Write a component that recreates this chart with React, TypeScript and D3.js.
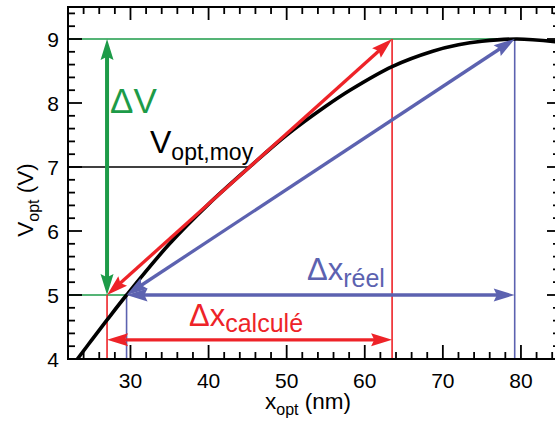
import React from "react";
import * as d3 from "d3";

// Curve V_opt(x_opt), values
const curveX = [22, 23.2, 25, 27, 29.5, 35, 40, 45.25, 50, 55, 58.1, 63.5, 68.7, 72, 75, 79.5, 85];
const curveV = [3.81, 4.0, 4.29, 4.61, 5.0, 5.8, 6.42, 7.0, 7.5, 7.95, 8.2, 8.57, 8.81, 8.91, 8.965, 9.0, 8.95];

const xTicks = [30, 40, 50, 60, 70, 80];
const yTicks = [4, 5, 6, 7, 8, 9];

const vLow = 5;
const vHigh = 9;
const vMid = 7;
const xCalcLow = 27;
const xCalcHigh = 63.5;
const xRealLow = 29.5;
const xRealHigh = 79.2;
const xMidTouch = 45.25;
const vCalcArrow = 4.3;

const GREEN = "#1d9b48";
const RED = "#ee2328";
const BLUE = "#5c62b0";
const FONT = "'Liberation Sans', Arial, Helvetica, sans-serif";

const W = 555;
const H = 423;
const L = 68;
const R = 560;
const T = 7;
const B = 359;

const x = d3.scaleLinear().domain([22, 85]).range([L, R]);
const y = d3.scaleLinear().domain([4, 9.5]).range([B, T]);

function head(x1: number, y1: number, x2: number, y2: number, len: number, wid: number) {
  const dx = x2 - x1, dy = y2 - y1;
  const d = Math.hypot(dx, dy);
  const ux = dx / d, uy = dy / d;
  const px = -uy, py = ux;
  const bx = x2 - ux * len, by = y2 - uy * len;
  const nx = x2 - ux * len * 0.85, ny = y2 - uy * len * 0.85;
  return `M${x2},${y2}L${bx + px * wid / 2},${by + py * wid / 2}L${nx},${ny}L${bx - px * wid / 2},${by - py * wid / 2}Z`;
}

function Arrow({ x1, y1, x2, y2, color, width, len = 21, wid = 13 }: any) {
  const dx = x2 - x1, dy = y2 - y1;
  const d = Math.hypot(dx, dy);
  const ux = dx / d, uy = dy / d;
  const s = len * 0.8;
  return (
    <g>
      <line x1={x1 + ux * s} y1={y1 + uy * s} x2={x2 - ux * s} y2={y2 - uy * s} stroke={color} strokeWidth={width} />
      <path d={head(x1, y1, x2, y2, len, wid)} fill={color} />
      <path d={head(x2, y2, x1, y1, len, wid)} fill={color} />
    </g>
  );
}

export default function App() {
  const line = d3
    .line<number>()
    .x((_, i) => x(curveX[i]))
    .y((v) => y(v))
    .curve(d3.curveCatmullRom.alpha(0.5));

  const xMinor = d3.range(22, 86, 2).filter((v) => v % 10 !== 0);
  const yMinor = d3.range(4, 9.51, 0.2).map((v) => Math.round(v * 10) / 10).filter((v) => Math.abs(v - Math.round(v)) > 0.01);

  return (
    <svg width={W} height={H} style={{ position: "absolute", left: 0, top: 0, background: "#fff" }} fontFamily={FONT}>
      <defs>
        <clipPath id="plot">
          <rect x={L} y={T} width={R - L} height={B - T} />
        </clipPath>
      </defs>

      {/* thin guide lines */}
      <line x1={L} x2={x(xRealHigh)} y1={y(vHigh)} y2={y(vHigh)} stroke={GREEN} strokeWidth={1.6} />
      <line x1={L} x2={x(xRealLow)} y1={y(vLow)} y2={y(vLow)} stroke={GREEN} strokeWidth={1.6} />
      <line x1={L} x2={x(xMidTouch)} y1={y(vMid)} y2={y(vMid)} stroke="#000" strokeWidth={1.6} />
      <line x1={x(xCalcLow)} x2={x(xCalcLow)} y1={y(vLow)} y2={B} stroke={RED} strokeWidth={1.6} />
      <line x1={x(xCalcHigh)} x2={x(xCalcHigh)} y1={y(vHigh)} y2={B} stroke={RED} strokeWidth={1.6} />
      <line x1={x(xRealLow)} x2={x(xRealLow)} y1={y(vLow)} y2={B} stroke={BLUE} strokeWidth={1.6} />
      <line x1={x(xRealHigh)} x2={x(xRealHigh)} y1={y(vHigh)} y2={B} stroke={BLUE} strokeWidth={1.6} />

      {/* curve */}
      <path d={line(curveV) || ""} fill="none" stroke="#000" strokeWidth={3.6} clipPath="url(#plot)" />

      {/* arrows */}
      <Arrow x1={x(xCalcLow)} y1={y(vLow)} x2={x(xCalcHigh)} y2={y(vHigh)} color={RED} width={3.3} />
      <Arrow x1={x(xRealLow)} y1={y(vLow)} x2={x(xRealHigh)} y2={y(vHigh)} color={BLUE} width={3.3} />
      <Arrow x1={x(xRealLow)} y1={y(vLow)} x2={x(xRealHigh)} y2={y(vLow)} color={BLUE} width={3.3} />
      <Arrow x1={x(xCalcLow)} y1={y(vCalcArrow)} x2={x(xCalcHigh)} y2={y(vCalcArrow)} color={RED} width={3.3} />
      <Arrow x1={x(xCalcLow)} y1={y(vLow)} x2={x(xCalcLow)} y2={y(vHigh)} color={GREEN} width={4} />

      {/* annotations */}
      <text x={110} y={113} fontSize={35} fill={GREEN}>ΔV</text>
      <text x={150} y={153} fontSize={32} fill="#000">
        V<tspan fontSize={23} dy={7}>opt,moy</tspan>
      </text>
      <text x={307} y={280} fontSize={31} fill={BLUE}>
        Δx<tspan fontSize={25} dy={7}>réel</tspan>
      </text>
      <text x={189} y={326} fontSize={31} fill={RED}>
        Δx<tspan fontSize={25} dy={6}>calculé</tspan>
      </text>

      {/* frame */}
      <rect x={L} y={T} width={R - L} height={B - T} fill="none" stroke="#000" strokeWidth={2} />

      {/* x ticks bottom/top */}
      {xTicks.map((t) => (
        <g key={"xt" + t}>
          <line x1={x(t)} x2={x(t)} y1={B} y2={B - 14} stroke="#000" strokeWidth={1.8} />
          <line x1={x(t)} x2={x(t)} y1={T} y2={T + 13} stroke="#000" strokeWidth={1.8} />
          <text x={x(t)} y={388} fontSize={21} textAnchor="middle">{t}</text>
        </g>
      ))}
      {xMinor.map((t) => (
        <g key={"xm" + t}>
          <line x1={x(t)} x2={x(t)} y1={B} y2={B - 7} stroke="#000" strokeWidth={1.8} />
          <line x1={x(t)} x2={x(t)} y1={T} y2={T + 7} stroke="#000" strokeWidth={1.8} />
        </g>
      ))}
      {yTicks.map((t) => (
        <g key={"yt" + t}>
          <line x1={L} x2={L + 14} y1={y(t)} y2={y(t)} stroke="#000" strokeWidth={1.8} />
          <line x1={R} x2={R - 13} y1={y(t)} y2={y(t)} stroke="#000" strokeWidth={1.8} />
          <text x={59} y={y(t) + 7.5} fontSize={21} textAnchor="end">{t}</text>
        </g>
      ))}
      {yMinor.map((t) => (
        <g key={"ym" + t}>
          <line x1={L} x2={L + 7} y1={y(t)} y2={y(t)} stroke="#000" strokeWidth={1.8} />
          <line x1={R} x2={R - 7} y1={y(t)} y2={y(t)} stroke="#000" strokeWidth={1.8} />
        </g>
      ))}

      {/* axis titles */}
      <text x={265} y={409} fontSize={22.5}>
        x<tspan fontSize={16} dy={6}>opt</tspan>
        <tspan dy={-6}> (nm)</tspan>
      </text>
      <text transform="translate(33,200) rotate(-90)" fontSize={22.5} textAnchor="middle">
        V<tspan fontSize={16} dy={6}>opt</tspan>
        <tspan dy={-6}> (V)</tspan>
      </text>
    </svg>
  );
}
